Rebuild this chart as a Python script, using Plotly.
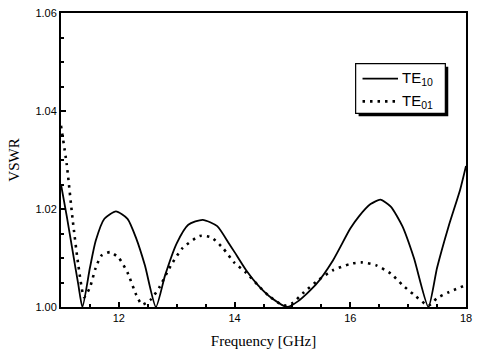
import plotly.graph_objects as go

freq_te10 = [11.0, 11.1, 11.2, 11.3, 11.37, 11.5, 11.6, 11.75, 11.95, 12.15, 12.3, 12.45, 12.64,
             12.8, 13.0, 13.2, 13.45, 13.7, 13.9, 14.0, 14.2, 14.4, 14.6, 14.91, 15.1, 15.4,
             15.7, 16.0, 16.15, 16.35, 16.52, 16.7, 16.9, 17.1, 17.35, 17.5, 17.7, 17.9, 18.0]
vswr_te10 = [1.0250, 1.0185, 1.0115, 1.0045, 1.0000, 1.0080, 1.0135, 1.0180, 1.0195, 1.0180,
             1.0140, 1.0085, 1.0000, 1.0065, 1.0130, 1.0168, 1.0178, 1.0165, 1.0130, 1.0112,
             1.0075, 1.0045, 1.0022, 1.0000, 1.0012, 1.0045, 1.0095, 1.0160, 1.0185, 1.0210,
             1.0219, 1.0205, 1.0165, 1.0100, 1.0000, 1.0080, 1.0165, 1.0240, 1.0288]

freq_te01 = [11.0, 11.1, 11.2, 11.3, 11.4, 11.5, 11.6, 11.7, 11.85, 12.0, 12.15, 12.3, 12.4,
             12.55, 12.7, 12.9, 13.1, 13.4, 13.6, 13.8, 14.0, 14.2, 14.4, 14.6, 14.85, 15.0,
             15.2, 15.45, 15.7, 16.0, 16.2, 16.45, 16.7, 16.9, 17.1, 17.35, 17.5, 17.7, 18.0]
vswr_te01 = [1.0370, 1.0290, 1.0180, 1.0085, 1.0020, 1.0040, 1.0080, 1.0105, 1.0112, 1.0100,
             1.0070, 1.0025, 1.0005, 1.0015, 1.0040, 1.0085, 1.0120, 1.0145, 1.0142, 1.0120,
             1.0090, 1.0070, 1.0045, 1.0022, 1.0003, 1.0008, 1.0030, 1.0055, 1.0075, 1.0088,
             1.0091, 1.0085, 1.0068, 1.0045, 1.0025, 1.0003, 1.0018, 1.0030, 1.0045]

series_names = ["TE<sub>10</sub>", "TE<sub>01</sub>"]
x_ticks = [12, 14, 16, 18]
y_ticks = [1.00, 1.02, 1.04, 1.06]
y_tick_labels = ["1.00", "1.02", "1.04", "1.06"]

solid_style = dict(color="black", width=1.8)
dot_style = dict(color="black", width=2.6, dash="2.5px,5px")

fig = go.Figure()
fig.add_trace(go.Scatter(x=freq_te10, y=vswr_te10, mode="lines", name=series_names[0],
                         line=dict(**solid_style, shape="spline", smoothing=0.6)))
fig.add_trace(go.Scatter(x=freq_te01, y=vswr_te01, mode="lines", name=series_names[1],
                         line=dict(**dot_style, shape="spline", smoothing=0.6)))

axis_common = dict(showgrid=False, zeroline=False, showline=True, linecolor="black", linewidth=2,
                   mirror=True, ticks="inside", ticklen=5, tickwidth=1.5, tickcolor="black",
                   tickfont=dict(family="Liberation Sans, Arial", size=11, color="black"))

fig.update_layout(
    width=479, height=356,
    margin=dict(l=61, r=7, t=11, b=49),
    paper_bgcolor="white", plot_bgcolor="white",
    xaxis=dict(range=[11, 18], tickvals=x_ticks, ticktext=[str(v) for v in x_ticks],
               minor=dict(ticks="inside", ticklen=3, dtick=0.5, tickcolor="black"),
               title=dict(text="Frequency [GHz]", font=dict(family="Liberation Serif, Times New Roman", size=15, color="black"), standoff=12),
               **axis_common),
    yaxis=dict(range=[1.0, 1.06], tickvals=y_ticks, ticktext=y_tick_labels,
               minor=dict(ticks="inside", ticklen=3, dtick=0.005, tickcolor="black"),
               title=dict(text="VSWR", font=dict(family="Liberation Serif, Times New Roman", size=15, color="black"), standoff=12),
               **axis_common),
    showlegend=False,
)

# Manual legend box with drop shadow
fig.add_shape(type="rect", xref="paper", yref="paper", x0=0.7348, x1=0.9562, y0=0.6486, y1=0.8176,
              fillcolor="black", line=dict(width=0), layer="above")
fig.add_shape(type="rect", xref="paper", yref="paper", x0=0.7275, x1=0.949, y0=0.6588, y1=0.8277,
              fillcolor="white", line=dict(color="black", width=1.2), layer="above")
legend_rows = [0.777, 0.6993]
for name, style, yrow in zip(series_names, [solid_style, dot_style], legend_rows):
    fig.add_shape(type="line", xref="paper", yref="paper", x0=0.7445, x1=0.8321, y0=yrow, y1=yrow,
                  line=style, layer="above")
    fig.add_annotation(xref="paper", yref="paper", x=0.837, y=yrow, xanchor="left", yanchor="middle",
                       text=name, showarrow=False,
                       font=dict(family="Liberation Sans, Arial", size=15, color="black"))

fig.write_html("out.html")
